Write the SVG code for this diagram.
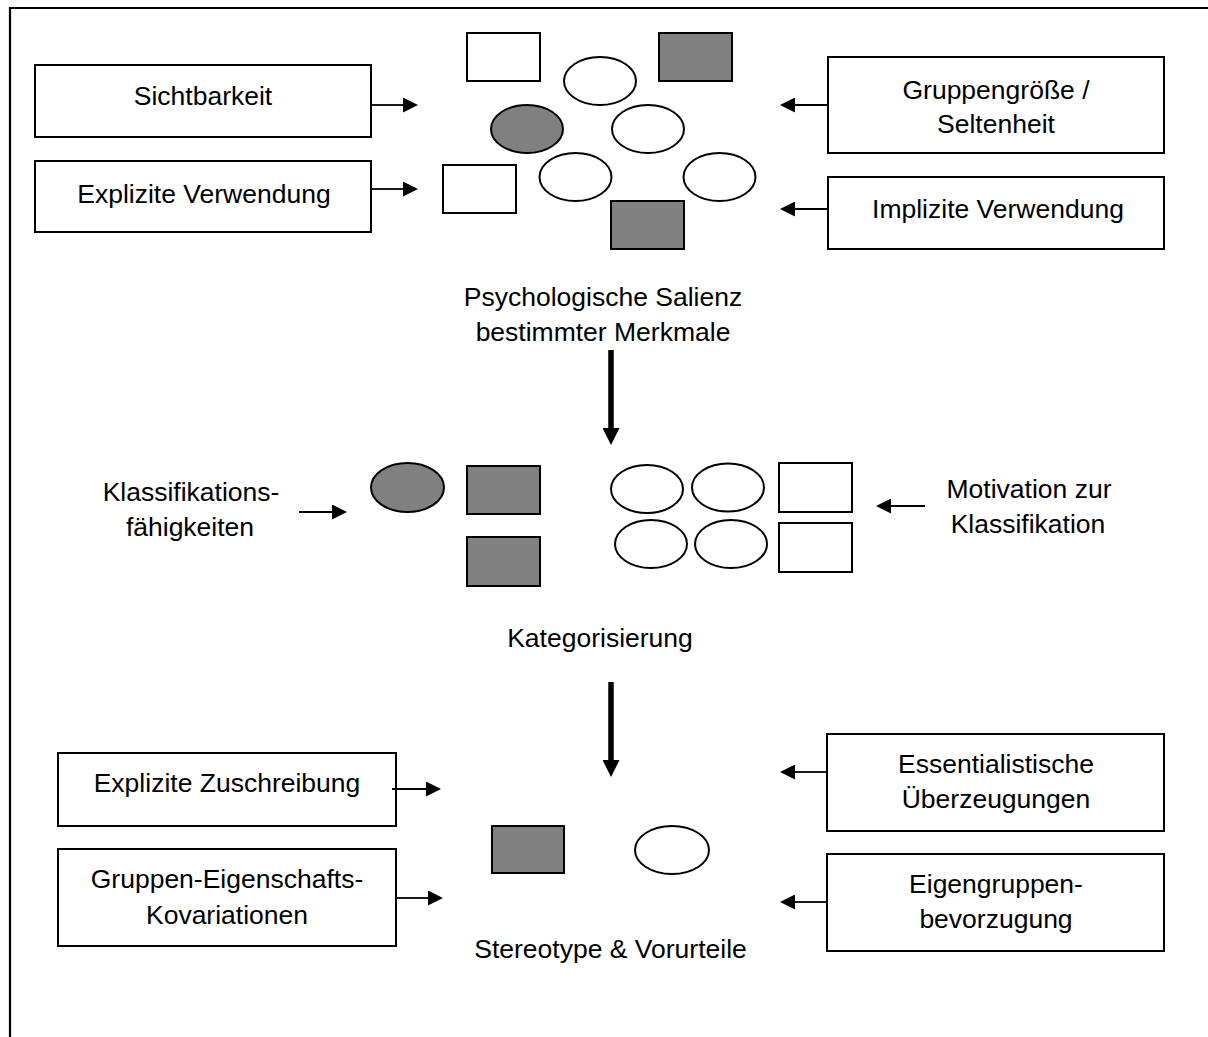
<svg xmlns="http://www.w3.org/2000/svg" width="1208" height="1037" viewBox="0 0 1208 1037">
<style>
text{font-family:"Liberation Sans",Arial,sans-serif;font-size:26.5px;fill:#000;text-anchor:middle}
.box{fill:#fff;stroke:#000;stroke-width:2}
.w{fill:#fff;stroke:#000;stroke-width:2}
.g{fill:#808080;stroke:#000;stroke-width:2}
.thin{stroke:#000;stroke-width:1.8;fill:none}
.thick{stroke:#000;stroke-width:5.5;fill:none}
</style>
<defs>
<marker id="ah" markerUnits="userSpaceOnUse" markerWidth="15" markerHeight="15" refX="0" refY="7.5" orient="auto">
<path d="M0,0 L15,7.5 L0,15 z" fill="#000"/>
</marker>
<marker id="ahb" markerUnits="userSpaceOnUse" markerWidth="17" markerHeight="17" refX="0" refY="8.5" orient="auto">
<path d="M0,0 L17,8.5 L0,17 z" fill="#000"/>
</marker>
</defs>
<rect width="1208" height="1037" fill="#fff"/>
<path id="frame" d="M10,1040 V8 H1212" fill="none" stroke="#000" stroke-width="2.2"/>

<g id="sichtbarkeit"><rect class="box" x="35" y="65" width="336" height="72"/><text x="203" y="105">Sichtbarkeit</text></g>
<g id="explizite-verwendung"><rect class="box" x="35" y="161" width="336" height="71"/><text x="204" y="203">Explizite Verwendung</text></g>
<g id="gruppengroesse"><rect class="box" x="828" y="57" width="336" height="96"/><text x="996" y="99">Gruppengröße /</text><text x="996" y="133">Seltenheit</text></g>
<g id="implizite-verwendung"><rect class="box" x="828" y="177" width="336" height="72"/><text x="998" y="218">Implizite Verwendung</text></g>

<g id="salienz-cluster">
<rect class="w" x="467" y="33" width="73" height="48"/>
<rect class="g" x="659" y="33" width="73" height="48"/>
<ellipse class="w" cx="600" cy="81" rx="36" ry="24"/>
<ellipse class="g" cx="527" cy="129" rx="36" ry="24"/>
<ellipse class="w" cx="648" cy="129" rx="36" ry="24"/>
<ellipse class="w" cx="575.5" cy="177" rx="36" ry="24"/>
<ellipse class="w" cx="719.5" cy="177" rx="36" ry="24"/>
<rect class="w" x="443" y="165" width="73" height="48"/>
<rect class="g" x="611" y="201" width="73" height="48"/>
</g>
<g id="salienz-label"><text x="603" y="306">Psychologische Salienz</text><text x="603" y="341">bestimmter Merkmale</text></g>

<g id="klassifikationsfaehigkeiten"><text x="191" y="501">Klassifikations-</text><text x="190" y="536">fähigkeiten</text></g>
<g id="kategorisierung-cluster">
<ellipse class="g" cx="407.5" cy="487.5" rx="36.5" ry="24.5"/>
<rect class="g" x="467" y="466" width="73" height="48"/>
<rect class="g" x="467" y="537" width="73" height="49"/>
<ellipse class="w" cx="647" cy="489" rx="36" ry="24"/>
<ellipse class="w" cx="728" cy="487.5" rx="36" ry="24"/>
<rect class="w" x="779" y="463" width="73" height="49"/>
<ellipse class="w" cx="651" cy="544" rx="36" ry="24"/>
<ellipse class="w" cx="731" cy="544" rx="36" ry="24"/>
<rect class="w" x="779" y="523" width="73" height="49"/>
</g>
<g id="motivation"><text x="1029" y="498">Motivation zur</text><text x="1028" y="533">Klassifikation</text></g>
<g id="kategorisierung-label"><text x="600" y="647">Kategorisierung</text></g>

<g id="explizite-zuschreibung"><rect class="box" x="58" y="753" width="338" height="73"/><text x="227" y="792">Explizite Zuschreibung</text></g>
<g id="gruppen-eigenschafts"><rect class="box" x="58" y="849" width="338" height="97"/><text x="227" y="888">Gruppen-Eigenschafts-</text><text x="227" y="924">Kovariationen</text></g>
<g id="essentialistische"><rect class="box" x="827" y="734" width="337" height="97"/><text x="996" y="773">Essentialistische</text><text x="996" y="808">Überzeugungen</text></g>
<g id="eigengruppen"><rect class="box" x="827" y="854" width="337" height="97"/><text x="996" y="893">Eigengruppen-</text><text x="996" y="928">bevorzugung</text></g>
<g id="stereotype-cluster">
<rect class="g" x="492" y="826" width="72" height="47"/>
<ellipse class="w" cx="672" cy="850" rx="37" ry="24"/>
</g>
<g id="stereotype-label"><text x="610.5" y="958">Stereotype &amp; Vorurteile</text></g>

<g id="connectors">
<line class="thin" x1="371" y1="105" x2="403" y2="105" marker-end="url(#ah)"/>
<line class="thin" x1="371" y1="189" x2="403" y2="189" marker-end="url(#ah)"/>
<line class="thin" x1="828" y1="105" x2="795" y2="105" marker-end="url(#ah)"/>
<line class="thin" x1="828" y1="209" x2="795" y2="209" marker-end="url(#ah)"/>
<line class="thick" x1="611" y1="350" x2="611" y2="428" marker-end="url(#ahb)"/>
<line class="thin" x1="299" y1="512" x2="332" y2="512" marker-end="url(#ah)"/>
<line class="thin" x1="925" y1="506" x2="891" y2="506" marker-end="url(#ah)"/>
<line class="thick" x1="611" y1="682" x2="611" y2="760" marker-end="url(#ahb)"/>
<line class="thin" x1="392" y1="789" x2="426" y2="789" marker-end="url(#ah)"/>
<line class="thin" x1="396" y1="898" x2="428" y2="898" marker-end="url(#ah)"/>
<line class="thin" x1="827" y1="772" x2="795" y2="772" marker-end="url(#ah)"/>
<line class="thin" x1="827" y1="902" x2="795" y2="902" marker-end="url(#ah)"/>
</g>
</svg>
